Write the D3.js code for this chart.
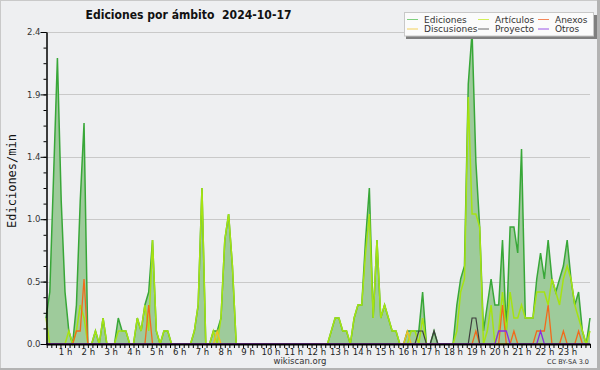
<!DOCTYPE html>
<html><head><meta charset="utf-8">
<script src="https://cdn.jsdelivr.net/npm/d3@7/dist/d3.min.js"></script>
<style>body{margin:0;background:#fff}svg{display:block}</style>
</head><body>
<svg id="c" width="600" height="370"></svg>
<script>
// ---- data (10-minute bins, edits per minute) ----
const title = "Ediciones por ámbito  2024-10-17";
const yTitle = "Ediciones/min";
const hourLabels = d3.range(1, 24).map(h => h + " h");
const yTickValues = [0, 0.48, 0.96, 1.44, 1.92, 2.4];
const seriesNames = ["Ediciones", "Artículos", "Anexos", "Discusiones", "Proyecto", "Otros"];

const ediciones = [
 0.2,0.4,1.3,2.2,1.1,0.4, 0.1,0,0.3,1.1,1.7,0,
 0,0.1,0,0.2,0,0, 0,0.2,0.1,0.1,0,0,
 0.2,0.1,0.3,0.4,0.8,0.1, 0,0.1,0.1,0,0,0,
 0,0,0,0.1,0.3,1.2, 0,0,0.1,0.1,0.2,0.8,
 1.0,0.6,0,0,0,0, 0,0,0,0,0,0,
 0,0,0,0,0,0, 0,0,0,0,0,0,
 0,0,0,0.1,0.2,0.2, 0.1,0.1,0,0.2,0.3,0.3,
 0.8,1.2,0.2,0.8,0.2,0.3, 0.2,0.1,0.1,0,0,0.1,
 0.1,0.1,0.1,0.4,0,0, 0.1,0,0,0,0,0,
 0.3,0.5,0.6,2.0,2.4,1.4, 0.9,0.1,0.3,0.5,0.3,0.3,
 0.8,0.1,0.9,0.9,0.7,1.5, 0.2,0.2,0.2,0.5,0.7,0.5,
 0.8,0.5,0.4,0.5,0.6,0.8, 0.5,0.3,0.4,0.1,0,0.2
];
const articulos = [
 0.2,0,0,0,0,0, 0.1,0,0.1,0.3,0.2,0,
 0,0.1,0,0.2,0,0, 0,0.1,0.1,0.1,0,0,
 0.2,0.1,0.3,0.1,0.8,0.1, 0,0.1,0.1,0,0,0,
 0,0,0,0.1,0.3,1.2, 0,0,0.1,0,0.2,0.8,
 1.0,0.6,0,0,0,0, 0,0,0,0,0,0,
 0,0,0,0,0,0, 0,0,0,0,0,0,
 0,0,0,0.1,0.2,0.2, 0.1,0.1,0,0.2,0.3,0.3,
 0.7,1.0,0.2,0.8,0.2,0.3, 0.2,0.1,0.1,0,0,0,
 0.1,0.1,0,0.2,0,0, 0,0,0,0,0,0,
 0.1,0.4,0.5,1.9,1.0,1.0, 0.9,0,0.1,0.3,0,0.1,
 0.4,0.1,0.4,0.2,0.2,0.3, 0.2,0.2,0.2,0.4,0.4,0.4,
 0.3,0.5,0.4,0.3,0.5,0.6, 0.5,0.3,0.2,0.1,0,0.1
];
const anexos = [
 0,0,0,0,0,0, 0,0,0.1,0.1,0.5,0,
 0,0,0,0,0,0, 0,0,0,0,0,0,
 0,0,0,0.3,0,0, 0,0,0,0,0,0,
 0,0,0,0,0,0, 0,0,0,0,0,0,
 0,0,0,0,0,0, 0,0,0,0,0,0,
 0,0,0,0,0,0, 0,0,0,0,0,0,
 0,0,0,0,0,0, 0,0,0,0,0,0,
 0,0,0,0,0,0, 0,0,0,0,0,0,
 0,0,0,0,0,0, 0,0,0,0,0,0,
 0,0,0,0,0,0.1, 0,0,0,0,0,0,
 0.3,0,0,0.1,0,0, 0,0,0,0.1,0.1,0.1,
 0.3,0,0,0,0.1,0, 0,0,0.1,0,0,0
];
const discusiones = [
 0,0,0,0,0,0, 0,0,0,0,0,0,
 0,0,0,0,0,0, 0,0,0,0,0,0,
 0,0,0,0,0,0, 0,0,0,0,0,0,
 0,0,0,0,0,0, 0,0,0,0.1,0,0,
 0,0,0,0,0,0, 0,0,0,0,0,0,
 0,0,0,0,0,0, 0,0,0,0,0,0,
 0,0,0,0,0,0, 0,0,0,0,0,0,
 0,0,0,0,0,0, 0,0,0,0,0,0.1,
 0,0,0,0,0,0, 0,0,0,0,0,0,
 0,0,0,0,0,0, 0,0,0,0,0,0,
 0,0,0,0,0,0, 0,0,0,0,0,0,
 0,0,0,0,0,0, 0,0,0,0,0,0
];
const proyecto = [
 0,0,0,0,0,0, 0,0,0,0,0,0,
 0,0,0,0,0,0, 0,0,0,0,0,0,
 0,0,0,0,0,0, 0,0,0,0,0,0,
 0,0,0,0,0,0, 0,0,0,0,0,0,
 0,0,0,0,0,0, 0,0,0,0,0,0,
 0,0,0,0,0,0, 0,0,0,0,0,0,
 0,0,0,0,0,0, 0,0,0,0,0,0,
 0,0,0,0,0,0, 0,0,0,0,0,0,
 0,0,0.1,0.1,0,0, 0.1,0,0,0,0,0,
 0,0,0,0,0.2,0.2, 0,0,0,0,0,0,
 0,0,0,0,0,0, 0,0,0,0,0,0,
 0,0,0,0,0,0, 0,0,0,0,0,0
];
const otros = [
 0,0,0,0,0,0, 0,0,0,0,0,0,
 0,0,0,0,0,0, 0,0,0,0,0,0,
 0,0,0,0,0,0, 0,0,0,0,0,0,
 0,0,0,0,0,0, 0,0,0,0,0,0,
 0,0,0,0,0,0, 0,0,0,0,0,0,
 0,0,0,0,0,0, 0,0,0,0,0,0,
 0,0,0,0,0,0, 0,0,0,0,0,0,
 0,0,0,0,0,0, 0,0,0,0,0,0,
 0,0,0,0,0,0, 0,0,0,0,0,0,
 0,0,0,0,0,0, 0,0,0,0,0,0.1,
 0.1,0.1,0,0,0,0, 0,0,0,0,0.1,0,
 0,0,0,0,0,0, 0,0,0,0,0,0
];

// ---- layout ----
const W = 600, H = 370;
const L = 46, R = 590, B = 344, T = 32;
const svg = d3.select("#c");
const x = d3.scaleLinear().domain([10, 1440]).range([L, R]);   // minutes (bin end)
const y = d3.scaleLinear().domain([0, 2.4]).range([B, T]);
const tOf = i => (i + 1) * 10;

// background + frame
svg.append("rect").attr("width", W).attr("height", H).attr("fill", "#eeeff1");
svg.append("rect").attr("x", 0).attr("y", 0).attr("width", W).attr("height", 1).attr("fill", "#c9c9c9");
svg.append("rect").attr("x", 0).attr("y", 0).attr("width", 1).attr("height", H).attr("fill", "#c9c9c9");
svg.append("rect").attr("x", W - 3).attr("y", 0).attr("width", 3).attr("height", H).attr("fill", "#b3b3b3");
svg.append("rect").attr("x", 0).attr("y", H - 2).attr("width", W).attr("height", 2).attr("fill", "#b3b3b3");

// gridlines
svg.append("g").selectAll("line").data(yTickValues.slice(1)).join("line")
  .attr("x1", L).attr("x2", R).attr("y1", d => Math.round(y(d)) + 0.5).attr("y2", d => Math.round(y(d)) + 0.5)
  .attr("stroke", "#c9c9c9").attr("stroke-width", 1);

// area + lines
const area = d3.area().x((d, i) => x(tOf(i))).y0(y(0)).y1(d => y(d));
const line = d3.line().x((d, i) => x(tOf(i))).y(d => y(d));
svg.append("path").datum(ediciones).attr("d", area).attr("fill", "#9ecb9b");

const styles = [
  {data: ediciones, color: "#38a738", w: 1.5},
  {data: articulos, color: "#a6e312", w: 1.5},
  {data: discusiones, color: "#f0c020", w: 1.3},
  {data: anexos, color: "#f26a1b", w: 1.3},
  {data: proyecto, color: "#3c3c3c", w: 1.2},
  {data: otros, color: "#8a2be2", w: 1.3}
];
styles.forEach(s => {
  svg.append("path").datum(s.data).attr("d", line)
    .attr("fill", "none").attr("stroke", s.color).attr("stroke-width", s.w)
    .attr("stroke-linejoin", "miter");
});

// y axis
const yAxisMinor = d3.axisLeft(y).tickValues(d3.range(0, 21).map(k => k * 0.12)).tickSize(3).tickSizeOuter(0).tickFormat("");
const gyMinor = svg.append("g").attr("transform", `translate(${L + 0.5},0)`).call(yAxisMinor);
const yAxis = d3.axisLeft(y).tickValues(yTickValues).tickSize(6).tickSizeOuter(0).tickFormat(d3.format(".1f"));
const gy = svg.append("g").attr("transform", `translate(${L + 0.5},0)`).call(yAxis);
[gy, gyMinor].forEach(g => {
  g.select(".domain").attr("stroke", "#000");
  g.selectAll(".tick line").attr("stroke", "#000");
});
gy.selectAll(".tick text").attr("font-family", "DejaVu Sans").attr("font-size", 8.5)
  .attr("fill", "#333").attr("x", -6);

// x axis
const xAxisMinor = d3.axisBottom(x).tickValues(d3.range(1, 121).map(k => k * 12)).tickSize(4).tickSizeOuter(0).tickFormat("");
const gx = svg.append("g").attr("transform", `translate(0,${B})`).call(xAxisMinor);
gx.select(".domain").attr("stroke", "#000").attr("stroke-width", 2);
gx.selectAll(".tick line").attr("stroke", "#000");
const xAxisLab = d3.axisBottom(x).tickValues(d3.range(1, 24).map(h => h * 60)).tickSize(0)
  .tickFormat((d, i) => hourLabels[i]);
const gxl = svg.append("g").attr("transform", `translate(0,${B})`).call(xAxisLab);
gxl.select(".domain").remove();
gxl.selectAll(".tick text").attr("font-family", "DejaVu Sans").attr("font-size", 8.5)
  .attr("fill", "#222").attr("dy", 0).attr("y", 10.5);

// titles
svg.append("text").attr("x", 85.5).attr("y", 18.5).text(title)
  .style("white-space", "pre")
  .attr("font-family", "DejaVu Sans").attr("font-weight", "bold").attr("font-size", 12.5)
  .attr("textLength", 206).attr("lengthAdjust", "spacingAndGlyphs").attr("fill", "#111");
svg.append("text").attr("transform", "translate(15.5,181) rotate(-90)").attr("text-anchor", "middle")
  .text(yTitle).attr("font-family", "DejaVu Sans Mono").attr("font-size", 12).attr("fill", "#111");
svg.append("text").attr("x", 300).attr("y", 364).attr("text-anchor", "middle").text("wikiscan.org")
  .attr("font-family", "DejaVu Sans").attr("font-size", 8.5).attr("fill", "#333");
svg.append("text").attr("x", 589).attr("y", 364).attr("text-anchor", "end").text("CC BY-SA 3.0")
  .attr("font-family", "DejaVu Sans").attr("font-size", 6.5).attr("fill", "#333");

// legend
const leg = svg.append("g");
leg.append("rect").attr("x", 406).attr("y", 15).attr("width", 191).attr("height", 24).attr("fill", "#7f7f7f");
leg.append("rect").attr("x", 404.5).attr("y", 12.5).attr("width", 189).attr("height", 23.5)
  .attr("fill", "#fbfbfb").attr("stroke", "#c8c8c8");
const legColors = ["#7fd07f", "#d2ef5a", "#f4875a", "#f3d15a", "#6a6a6a", "#9a55e6"];
const colX = [407, 478, 538];
seriesNames.forEach((n, i) => {
  const col = i % 3, row = Math.floor(i / 3);
  const lx = colX[col], ly = row === 0 ? 19.5 : 29;
  leg.append("line").attr("x1", lx).attr("x2", lx + 11).attr("y1", ly).attr("y2", ly)
    .attr("stroke", legColors[i]).attr("stroke-width", 1);
  leg.append("text").attr("x", lx + 17).attr("y", ly + 3.2).text(n)
    .attr("font-family", "DejaVu Sans").attr("font-size", 9).attr("fill", "#333");
});
</script>
</body></html>
